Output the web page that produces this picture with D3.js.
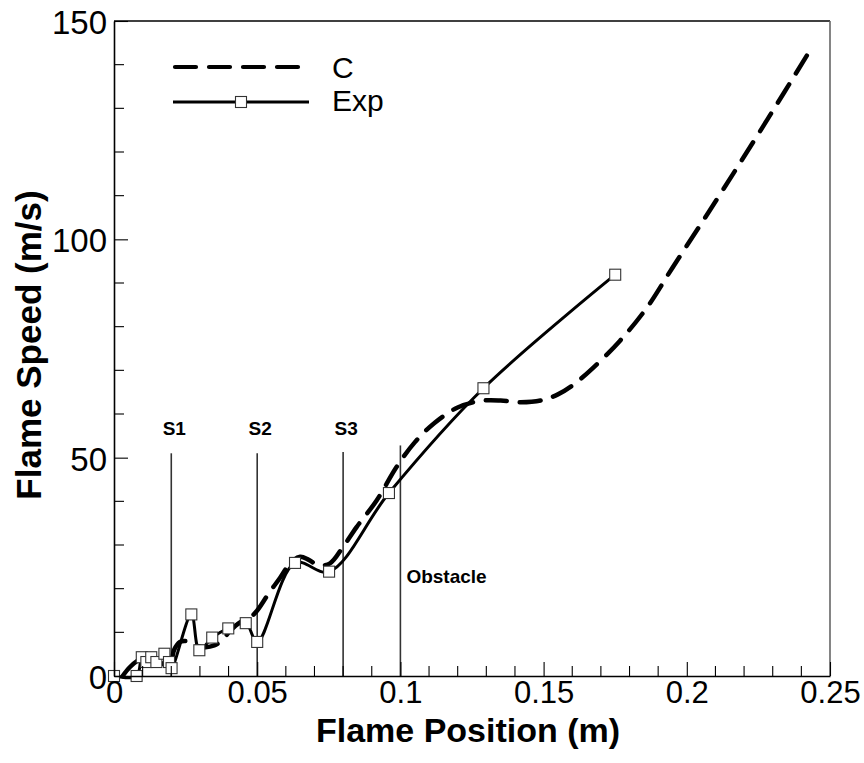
<!DOCTYPE html>
<html>
<head>
<meta charset="utf-8">
<script src="https://cdn.jsdelivr.net/npm/d3@7"></script>
<style>
  html, body { margin: 0; padding: 0; background: #fff; }
  svg { display: block; font-family: "Liberation Sans", Arial, sans-serif; }
</style>
</head>
<body>
<svg id="chart" width="864" height="763"></svg>
<script>
// Computed flame speed (C): flame position (m) vs speed (m/s)
const cX = [0.003, 0.0055, 0.008, 0.011, 0.014, 0.017, 0.0195, 0.021, 0.023, 0.026, 0.029, 0.032, 0.035, 0.0375,
            0.0405, 0.044, 0.0475, 0.05, 0.054, 0.058, 0.0615, 0.065, 0.068, 0.0713, 0.0754, 0.08, 0.0847,
            0.0917, 0.0987, 0.105, 0.112, 0.12, 0.128, 0.135, 0.142, 0.149, 0.155, 0.16, 0.167, 0.1767,
            0.186, 0.195, 0.208, 0.228, 0.2436];
const cY = [0, 2, 3.4, 4.2, 3.8, 2.8, 2.2, 6, 7.8, 7.9, 6.9, 6.6, 7, 8,
            10.3, 12.3, 13.4, 15, 18.9, 22.5, 25.8, 27.3, 26.6, 25.4, 25.8, 29.6, 34.1,
            40.2, 47.9, 53.5, 58, 61.5, 63, 63.1, 62.7, 63.1, 64.5, 66.5, 70.4, 76.8,
            84.3, 93.5, 106.6, 127.3, 143.9];

// Experimental flame speed (Exp)
const expX = [0, 0.0079, 0.0097, 0.0113, 0.013, 0.0148, 0.0176, 0.0192, 0.0201, 0.027, 0.0298, 0.0343,
              0.0399, 0.046, 0.05, 0.0632, 0.0751, 0.096, 0.129, 0.175];
const expY = [0, 0, 4.3, 3.2, 4.3, 3.2, 5.1, 3.2, 1.8, 14.1, 5.9, 8.8,
              10.9, 12.1, 7.8, 25.9, 23.9, 41.9, 65.9, 91.9];

// Sensor and obstacle positions
const markerNames = ["S1", "S2", "S3", "Obstacle"];
const markerX = [0.02, 0.05, 0.08, 0.1];
const markerTop = [51, 51, 51.3, 52.8];

// Axis ticks
const xMajor = [0, 0.05, 0.1, 0.15, 0.2, 0.25];
const xMajorLabels = ["0", "0.05", "0.1", "0.15", "0.2", "0.25"];
const yMajor = [0, 50, 100, 150];
const yMajorLabels = ["0", "50", "100", "150"];
const xMinor = d3.range(0, 26).map(i => i / 100).filter(v => !xMajor.some(m => Math.abs(m - v) < 1e-9));
const yMinor = d3.range(0, 151, 10).filter(v => v % 50 !== 0);

const legendNames = ["C", "Exp"];

const svg = d3.select("#chart");
const L = 114, R = 830, T = 21, B = 676;
const x = d3.scaleLinear().domain([0, 0.25]).range([L, R]);
const y = d3.scaleLinear().domain([0, 150]).range([B, T]);

// Sensor / obstacle vertical lines
const mk = svg.append("g");
markerX.forEach((mx, i) => {
  mk.append("line")
    .attr("x1", x(mx)).attr("x2", x(mx))
    .attr("y1", y(markerTop[i])).attr("y2", B)
    .attr("stroke", "#333").attr("stroke-width", 1.6);
});
markerNames.forEach((name, i) => {
  const t = mk.append("text")
    .attr("font-weight", "bold").attr("font-size", 19).attr("fill", "#000")
    .text(name);
  if (name === "Obstacle") {
    t.attr("x", x(markerX[i]) + 6).attr("y", y(21.2)).attr("text-anchor", "start");
  } else {
    t.attr("x", x(markerX[i]) + 3).attr("y", y(55.3)).attr("text-anchor", "middle");
  }
});

// C curve
const cData = cX.map((v, i) => [v, cY[i]]);
svg.append("path")
  .datum(cData)
  .attr("fill", "none")
  .attr("stroke", "#000")
  .attr("stroke-width", 4.5)
  .attr("stroke-linecap", "round")
  .attr("stroke-dasharray", "21 13")
  .attr("d", d3.line().x(d => x(d[0])).y(d => y(d[1])).curve(d3.curveCatmullRom.alpha(0.5)));

// Exp curve
const eData = expX.map((v, i) => [v, expY[i]]);
svg.append("path")
  .datum(eData)
  .attr("fill", "none")
  .attr("stroke", "#000")
  .attr("stroke-width", 3)
  .attr("d", d3.line().x(d => x(d[0])).y(d => y(d[1])).curve(d3.curveCatmullRom.alpha(0.5)));

svg.append("g").selectAll("rect")
  .data(eData)
  .join("rect")
  .attr("x", d => x(d[0]) - 5.5)
  .attr("y", d => y(d[1]) - 5.5)
  .attr("width", 11).attr("height", 11)
  .attr("fill", "#fff").attr("stroke", "#333").attr("stroke-width", 1.1);

// Axes frame
const ax = svg.append("g");
ax.append("line").attr("x1", L).attr("x2", R).attr("y1", T).attr("y2", T).attr("stroke", "#000").attr("stroke-width", 1.5);
ax.append("line").attr("x1", R).attr("x2", R).attr("y1", T).attr("y2", B).attr("stroke", "#666").attr("stroke-width", 1.6);

const xAxis = d3.axisBottom(x).tickValues(xMajor).tickSizeInner(-14).tickSizeOuter(0)
  .tickFormat((d, i) => xMajorLabels[i]).tickPadding(0);
const gx = ax.append("g").attr("transform", `translate(0,${B})`).call(xAxis);
gx.select(".domain").attr("stroke", "#000").attr("stroke-width", 1.6);
gx.selectAll(".tick line").attr("stroke", "#000").attr("stroke-width", 1.1);
gx.selectAll(".tick text").attr("font-size", 31).attr("font-family", "Liberation Sans, Arial, sans-serif")
  .attr("fill", "#000").attr("dy", null).attr("y", 27);
gx.selectAll(".tickMinor").data(xMinor).join("line")
  .attr("x1", d => x(d)).attr("x2", d => x(d)).attr("y1", 0).attr("y2", -10)
  .attr("stroke", "#000").attr("stroke-width", 1.1);

const yAxis = d3.axisLeft(y).tickValues(yMajor).tickSizeInner(-14).tickSizeOuter(0)
  .tickFormat((d, i) => yMajorLabels[i]).tickPadding(0);
const gy = ax.append("g").attr("transform", `translate(${L},0)`).call(yAxis);
gy.select(".domain").attr("stroke", "#000").attr("stroke-width", 1.6);
gy.selectAll(".tick line").attr("stroke", "#000").attr("stroke-width", 1.1);
gy.selectAll(".tick text").attr("font-size", 33).attr("font-family", "Liberation Sans, Arial, sans-serif")
  .attr("fill", "#000").attr("x", -7).attr("dy", "0.38em");
gy.selectAll(".tickMinor").data(yMinor).join("line")
  .attr("y1", d => y(d)).attr("y2", d => y(d)).attr("x1", 0).attr("x2", 10)
  .attr("stroke", "#000").attr("stroke-width", 1.1);

// Axis titles
svg.append("text")
  .attr("x", 468).attr("y", 742)
  .attr("text-anchor", "middle").attr("font-weight", "bold").attr("font-size", 34)
  .text("Flame Position (m)");
svg.append("text")
  .attr("transform", "translate(41,345) rotate(-90)")
  .attr("text-anchor", "middle").attr("font-weight", "bold").attr("font-size", 35)
  .text("Flame Speed (m/s)");

// Legend
const lg = svg.append("g");
lg.append("line").attr("x1", 175).attr("x2", 298).attr("y1", 67).attr("y2", 67)
  .attr("stroke", "#000").attr("stroke-width", 4.2).attr("stroke-dasharray", "21 13").attr("stroke-linecap", "round");
lg.append("line").attr("x1", 173).attr("x2", 309).attr("y1", 102).attr("y2", 102)
  .attr("stroke", "#000").attr("stroke-width", 3);
lg.append("rect").attr("x", 241 - 5.5).attr("y", 102 - 5.5).attr("width", 11).attr("height", 11)
  .attr("fill", "#fff").attr("stroke", "#333").attr("stroke-width", 1.1);
lg.selectAll("text").data(legendNames).join("text")
  .attr("x", 332).attr("y", (d, i) => 78 + i * 33)
  .attr("font-size", 30).attr("fill", "#000")
  .text(d => d);
</script>
</body>
</html>
